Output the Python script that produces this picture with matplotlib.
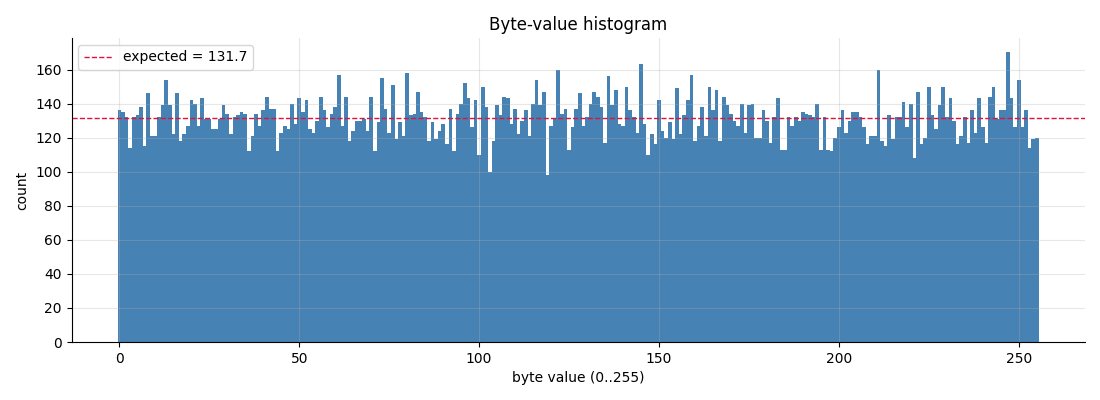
import numpy as np
import matplotlib
matplotlib.use("Agg")
import matplotlib.pyplot as plt

byte_values = np.arange(256)
counts = [
    136, 135, 132, 114, 132, 133, 138, 115, 146, 121, 121, 132, 139, 154, 139, 122,
    146, 118, 122, 127, 142, 140, 127, 143, 131, 131, 125, 125, 131, 139, 134, 122,
    132, 133, 135, 134, 112, 121, 134, 127, 136, 144, 137, 137, 112, 123, 127, 125,
    140, 128, 143, 135, 142, 125, 123, 130, 144, 136, 126, 134, 138, 157, 127, 144,
    118, 124, 130, 130, 131, 124, 144, 112, 129, 155, 137, 123, 151, 119, 129, 121,
    158, 133, 134, 147, 135, 132, 118, 129, 119, 124, 128, 116, 137, 112, 134, 140,
    152, 143, 126, 142, 110, 150, 138, 100, 118, 139, 133, 144, 143, 128, 137, 122,
    130, 136, 121, 140, 154, 139, 147, 98, 127, 131, 160, 134, 137, 113, 126, 137,
    146, 127, 132, 140, 147, 144, 138, 117, 156, 139, 148, 128, 127, 150, 136, 132,
    123, 163, 128, 110, 122, 116, 142, 124, 120, 129, 119, 149, 122, 133, 142, 157,
    118, 127, 138, 121, 150, 136, 148, 118, 144, 139, 134, 130, 127, 140, 123, 139,
    140, 120, 120, 136, 130, 117, 132, 143, 113, 113, 132, 127, 132, 130, 135, 134,
    133, 132, 140, 113, 132, 113, 112, 120, 126, 136, 123, 130, 135, 135, 132, 126,
    116, 121, 121, 160, 118, 115, 133, 119, 132, 132, 141, 126, 140, 108, 147, 116,
    120, 150, 133, 125, 139, 150, 132, 143, 130, 116, 121, 132, 117, 136, 123, 143,
    126, 117, 144, 150, 131, 136, 136, 170, 143, 126, 154, 126, 136, 114, 119, 120,
]
expected = 131.7

fig, ax = plt.subplots(figsize=(11, 4), dpi=100)
fig.subplots_adjust(left=0.065, right=0.986, top=0.905, bottom=0.145)

ax.bar(byte_values, counts, width=1.0, color="steelblue")
ax.axhline(expected, color="crimson", linestyle="--", linewidth=1,
           label=f"expected = {expected:.1f}")

ax.set_title("Byte-value histogram")
ax.set_xlabel("byte value (0..255)")
ax.set_ylabel("count")
ax.grid(True, alpha=0.3)
ax.spines["top"].set_visible(False)
ax.spines["right"].set_visible(False)
ax.legend(loc="upper left")

fig.savefig("out.png")
